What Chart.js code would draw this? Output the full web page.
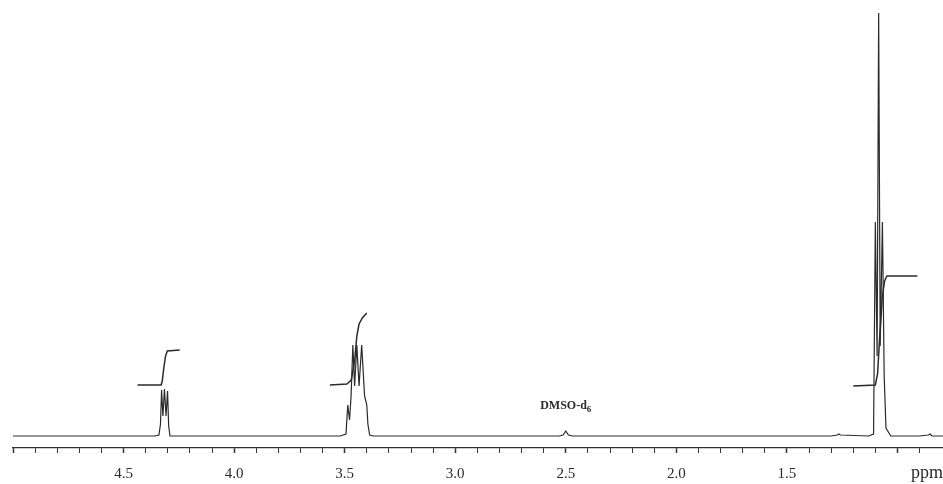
<!DOCTYPE html>
<html>
<head>
<meta charset="utf-8">
<script src="https://cdn.jsdelivr.net/npm/chart.js@4.4.1/dist/chart.umd.min.js"></script>
<style>
  html, body { margin: 0; padding: 0; background: #fff; }
  #wrap { width: 943px; height: 484px; position: relative; }
</style>
</head>
<body>
<div id="wrap"><canvas id="chart-nmr"></canvas></div>
<script>
// 1H NMR spectrum (ppm, intensity in arbitrary units)
const spectrumPpm = [
  5.00, 4.60, 4.36, 4.340, 4.333, 4.328, 4.322, 4.315, 4.308, 4.301, 4.296, 4.29, 4.00,
  3.52, 3.494, 3.486, 3.478, 3.471, 3.463, 3.455, 3.445, 3.435, 3.423, 3.410, 3.400, 3.395, 3.387, 3.37, 3.00,
  2.53, 2.512, 2.500, 2.488, 2.47, 2.00, 1.30, 1.272, 1.265, 1.258, 1.13,
  1.108, 1.100, 1.092, 1.085, 1.078, 1.068, 1.060, 1.052, 1.03, 0.90, 0.860, 0.852, 0.844, 0.79
];
const spectrumInt = [
  0, 0, 0, 1, 12, 46, 20, 47, 20, 45, 10, 0, 0,
  0, 2, 31, 16, 40, 91, 50, 91, 50, 91, 40, 31, 12, 1, 0, 0,
  0, 1, 5, 1, 0, 0, 0, 1, 2, 1, 0,
  2, 214, 80, 423, 90, 214, 60, 8, 0, 0, 1, 2, 0, 0
];

// integral traces
const intOhPpm = [4.437, 4.330, 4.325, 4.318, 4.310, 4.302, 4.246];
const intOhVal = [51, 51, 55, 68, 80, 85, 86];
const intCh2Ppm = [3.567, 3.490, 3.470, 3.455, 3.445, 3.435, 3.420, 3.400];
const intCh2Val = [51, 52, 56, 75, 100, 112, 118, 123];
const intCh3Ppm = [1.200, 1.100, 1.090, 1.080, 1.068, 1.058, 1.048, 0.910];
const intCh3Val = [50, 51, 62, 100, 140, 155, 160, 160];

const xLabels = [4.5, 4.0, 3.5, 3.0, 2.5, 2.0, 1.5];
const solventLabel = { ppm: 2.5, y: 27, text: "DMSO-d", sub: "6" };

function pts(xs, ys) {
  return xs.map((x, i) => ({ x: x, y: ys[i] }));
}

function isLabelled(v) {
  return xLabels.some((l) => Math.abs(l - v) < 1e-6);
}
function isHalf(v) {
  return Math.abs(v * 2 - Math.round(v * 2)) < 1e-6;
}

const extraText = {
  id: "extraText",
  afterDraw(c) {
    const ctx = c.ctx;
    const xs = c.scales.x;
    const ys = c.scales.y;
    ctx.save();
    ctx.fillStyle = "#2a2a2a";
    // solvent label
    ctx.textBaseline = "alphabetic";
    const px = xs.getPixelForValue(solventLabel.ppm);
    const py = ys.getPixelForValue(solventLabel.y);
    ctx.font = "bold 12px 'Liberation Serif'";
    const w = ctx.measureText(solventLabel.text).width;
    ctx.font = "bold 9px 'Liberation Serif'";
    const ws = ctx.measureText(solventLabel.sub).width;
    const x0 = px - (w + ws) / 2;
    ctx.font = "bold 12px 'Liberation Serif'";
    ctx.fillText(solventLabel.text, x0, py);
    ctx.font = "bold 9px 'Liberation Serif'";
    ctx.fillText(solventLabel.sub, x0 + w, py + 3);
    // unit
    ctx.font = "18px 'Liberation Serif'";
    ctx.textAlign = "right";
    ctx.fillText("ppm", c.width, xs.top + 30);
    ctx.restore();
  },
};

const lineStyle = { borderColor: "#2a2a2a", borderWidth: 1.2, pointRadius: 0, tension: 0, fill: false };

new Chart(document.getElementById("chart-nmr"), {
  type: "line",
  data: {
    datasets: [
      Object.assign({ label: "spectrum", data: pts(spectrumPpm, spectrumInt) }, lineStyle),
      Object.assign({ label: "int OH", data: pts(intOhPpm, intOhVal) }, lineStyle, { borderWidth: 1.5 }),
      Object.assign({ label: "int CH2", data: pts(intCh2Ppm, intCh2Val) }, lineStyle, { borderWidth: 1.5 }),
      Object.assign({ label: "int CH3", data: pts(intCh3Ppm, intCh3Val) }, lineStyle, { borderWidth: 1.5 }),
    ],
  },
  options: {
    responsive: true,
    maintainAspectRatio: false,
    animation: false,
    layout: { padding: { left: 13, right: 0, top: 6, bottom: 0 } },
    plugins: { legend: { display: false }, tooltip: { enabled: false } },
    scales: {
      x: {
        type: "linear",
        reverse: true,
        min: 0.794,
        max: 5.0,
        afterFit: (scale) => {
          scale.paddingLeft = 0;
          scale.paddingRight = 0;
          scale.paddingTop = 0;
          scale.paddingBottom = 0;
          scale.height = 36;
        },
        border: { display: true, color: "#333", width: 1.2 },
        grid: {
          drawOnChartArea: false,
          drawTicks: true,
          tickLength: 5,
          tickColor: "#333",
          tickWidth: (ctx) => (ctx.tick && isHalf(ctx.tick.value) ? 1.5 : 1),
        },
        ticks: {
          stepSize: 0.1,
          autoSkip: false,
          maxRotation: 0,
          padding: 12,
          color: "#2a2a2a",
          font: { family: "'Liberation Serif'", size: 15 },
          callback: (v) => (isLabelled(v) ? v.toFixed(1) : ""),
        },
      },
      y: { display: false, min: -12, max: 430 },
    },
  },
  plugins: [extraText],
});
</script>
</body>
</html>
